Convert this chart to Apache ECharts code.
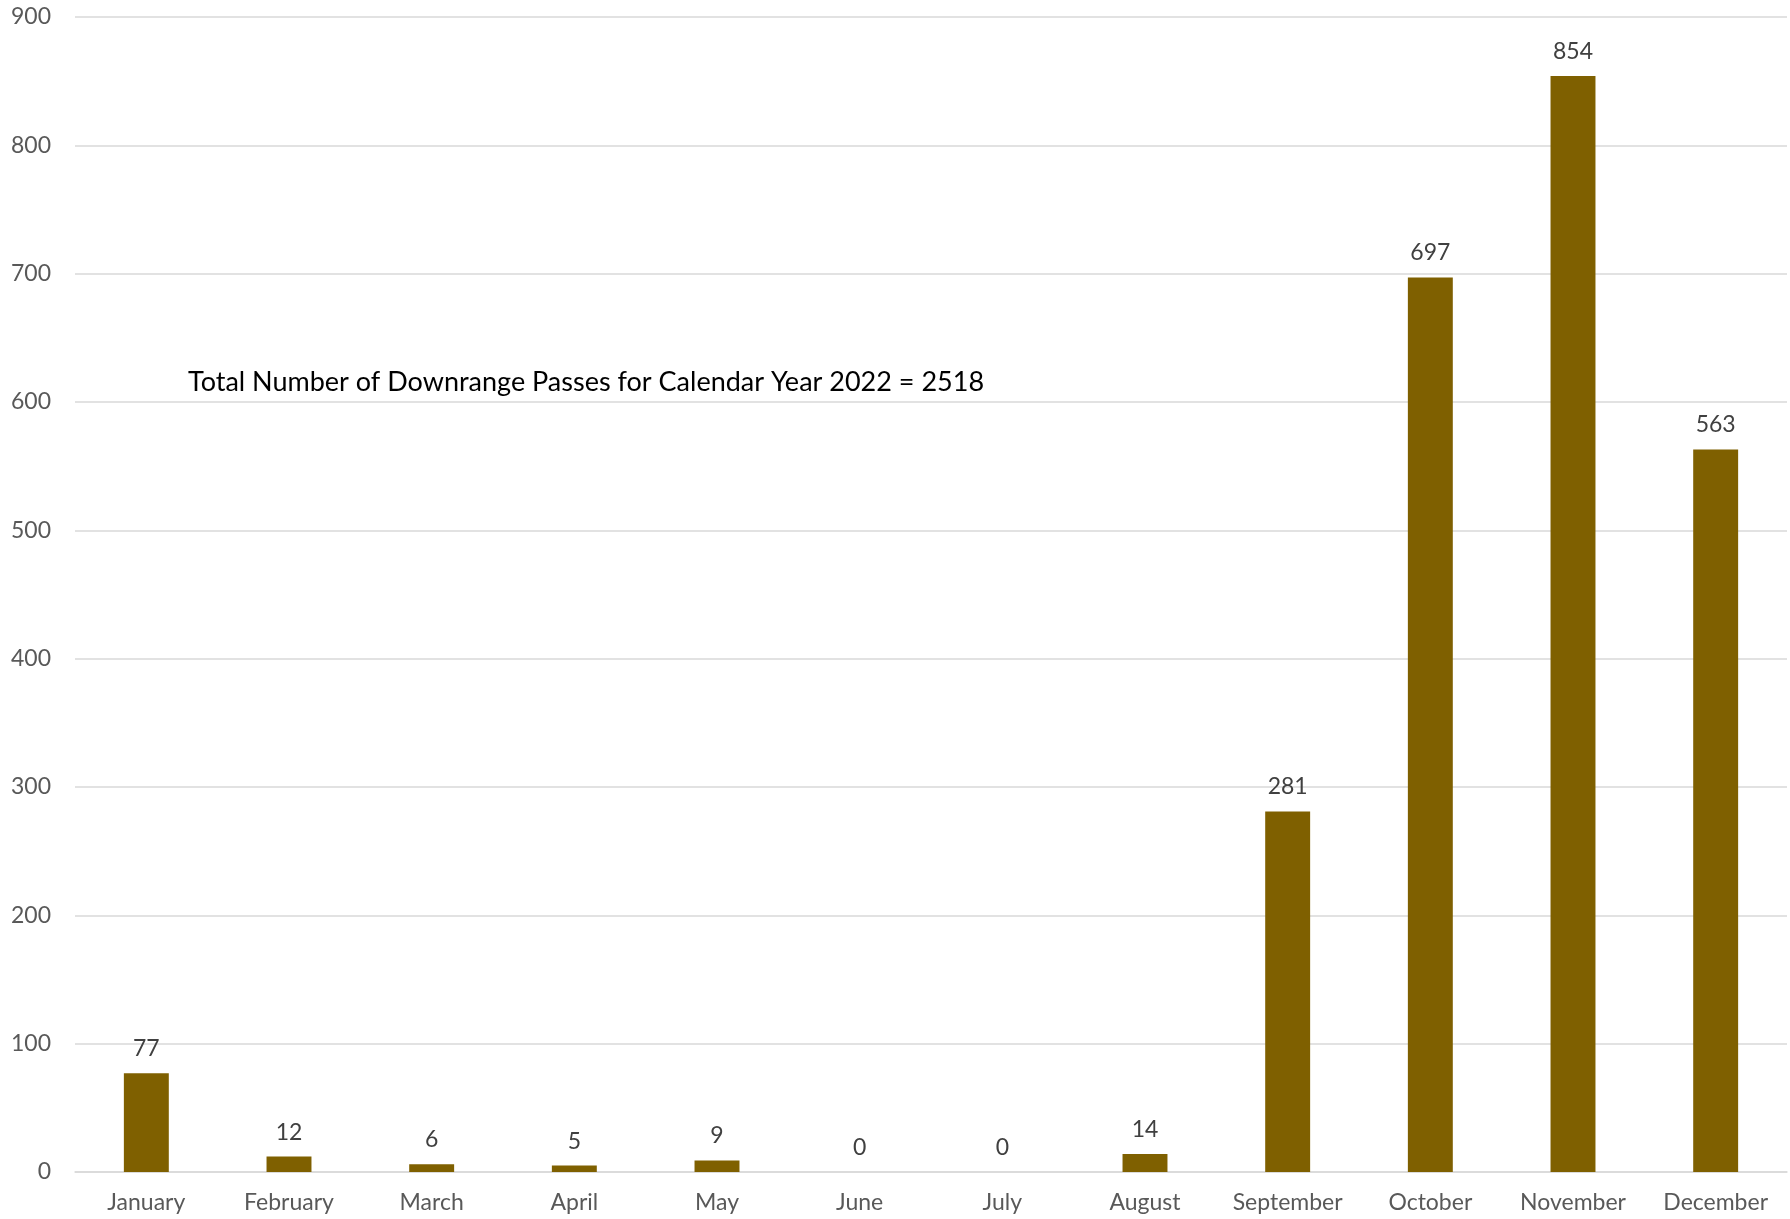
<!DOCTYPE html>
<html>
<head>
<meta charset="utf-8">
<script src="https://cdn.jsdelivr.net/npm/echarts@6/dist/echarts.min.js"></script>
<style>
html,body{margin:0;padding:0;background:#fff;}
#chart{width:1790px;height:1219px;}
</style>
</head>
<body>
<div id="chart"></div>
<script>
const months = ["January","February","March","April","May","June","July","August","September","October","November","December"];
const passes = [77, 12, 6, 5, 9, 0, 0, 14, 281, 697, 854, 563];
const yTicks = { min: 0, max: 900, interval: 100 };
const annotation = "Total Number of Downrange Passes for Calendar Year 2022 = 2518";

const chart = echarts.init(document.getElementById('chart'));
chart.setOption({
  animation: false,
  backgroundColor: '#ffffff',
  textStyle: { fontFamily: 'Lato' },
  grid: { left: 75, right: 3, top: 17, bottom: 47 },
  xAxis: {
    type: 'category',
    data: months,
    axisLine: { lineStyle: { color: '#D9D9D9', width: 1.5 } },
    axisTick: { show: false },
    axisLabel: { color: '#595959', fontSize: 23, margin: 19, interval: 0, fontFamily: 'Lato' }
  },
  yAxis: {
    type: 'value',
    min: yTicks.min, max: yTicks.max, interval: yTicks.interval,
    axisLine: { show: false },
    axisTick: { show: false },
    axisLabel: { color: '#595959', fontSize: 23, margin: 24, fontFamily: 'Lato' },
    splitLine: { lineStyle: { color: '#D9D9D9', width: 1.5 } }
  },
  series: [{
    type: 'bar',
    data: passes,
    barWidth: '31.5%',
    itemStyle: { color: '#7F6000' },
    label: { show: true, position: 'top', distance: 13, color: '#404040', fontSize: 23, fontFamily: 'Lato' }
  }],
  graphic: [{
    type: 'text',
    left: 188,
    top: 369,
    style: { text: annotation, fill: '#000000', fontSize: 27, fontFamily: 'Lato' }
  }]
});
</script>
</body>
</html>
